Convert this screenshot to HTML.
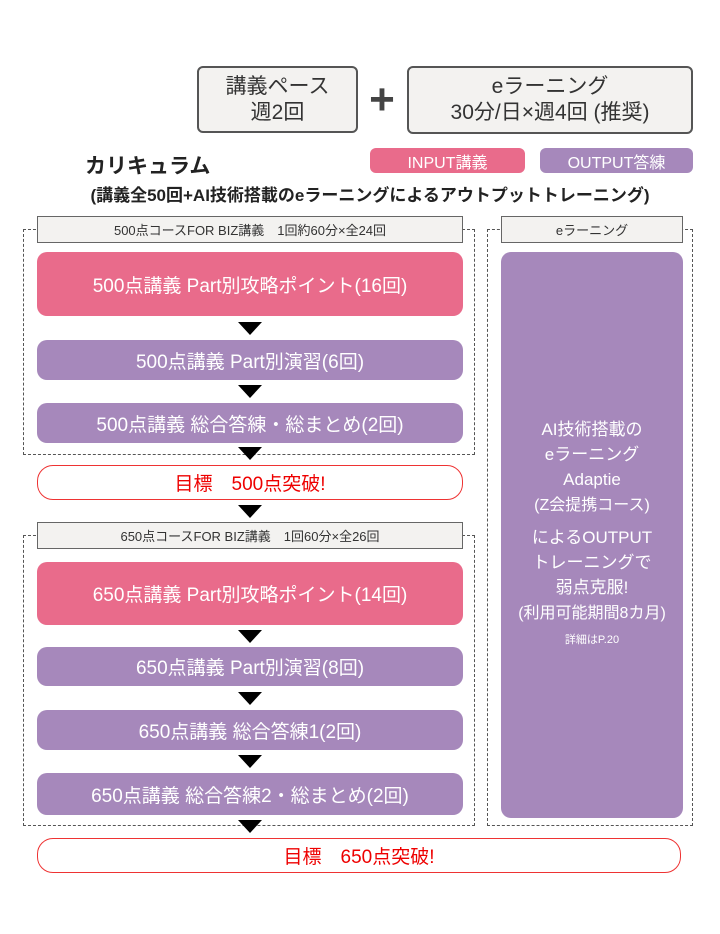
<!DOCTYPE html>
<html><head><meta charset="utf-8"><style>
body{margin:0;width:720px;height:934px;background:#fff;position:relative;font-family:"Liberation Sans","Noto Sans CJK JP",sans-serif;overflow:hidden}
.a{position:absolute;box-sizing:border-box;display:flex;align-items:center;justify-content:center;text-align:center}
.top{background:#f3f2f0;border:2px solid #555;border-radius:6px;color:#333;font-size:21px;line-height:26px;flex-direction:column}
.hd{background:#f3f2f0;border:1px solid #666;color:#333;font-size:13px}
.pk{background:#e96b8b;color:#fff;border-radius:10px;font-size:19px}
.pu{background:#a688bb;color:#fff;border-radius:10px;font-size:19px}
.ds{position:absolute;border:1px dashed #555;box-sizing:border-box}
.tg{background:#fff;border:1.5px solid #e33;color:#e00;border-radius:16px;font-size:19px}
.ar{position:absolute;width:0;height:0;border-left:12px solid transparent;border-right:12px solid transparent;border-top:13px solid #000}
</style></head><body>
<div class="a top" style="left:197px;top:66px;width:161px;height:67px">講義ペース<br>週2回</div>
<div class="a" style="left:362px;top:80px;width:40px;height:40px;font-size:44px;font-weight:bold;color:#444">+</div>
<div class="a top" style="left:407px;top:66px;width:286px;height:68px">eラーニング<br>30分/日×週4回 (推奨)</div>
<div class="a pk" style="left:370px;top:148px;width:155px;height:25px;border-radius:6px;font-size:16px">INPUT講義</div>
<div class="a pu" style="left:540px;top:148px;width:153px;height:25px;border-radius:6px;font-size:16px">OUTPUT答練</div>
<div class="a" style="left:85px;top:150px;width:160px;height:30px;font-size:21px;font-weight:bold;color:#222;justify-content:flex-start">カリキュラム</div>
<div class="a" style="left:40px;top:180px;width:660px;height:26px;font-size:17px;font-weight:bold;color:#222">(講義全50回+AI技術搭載のeラーニングによるアウトプットトレーニング)</div>

<div class="ds" style="left:23px;top:229px;width:452px;height:226px"></div>
<div class="ds" style="left:487px;top:229px;width:206px;height:597px"></div>
<div class="ds" style="left:23px;top:535px;width:452px;height:291px"></div>
<div class="a hd" style="left:37px;top:216px;width:426px;height:27px">500点コースFOR BIZ講義　1回約60分×全24回</div>
<div class="a hd" style="left:501px;top:216px;width:182px;height:27px">eラーニング</div>
<div class="a pu" style="left:501px;top:252px;width:182px;height:566px;flex-direction:column;font-size:17px;line-height:25px;padding-top:0">
<div>AI技術搭載の<br>eラーニング<br>Adaptie<br><span style="font-size:16px">(Z会提携コース)</span></div>
<div style="margin-top:7px">によるOUTPUT<br>トレーニングで<br>弱点克服!<br><span style="font-size:16px">(利用可能期間8カ月)</span></div>
<div style="font-size:11px;margin-top:2px">詳細はP.20</div></div>

<div class="a pk" style="left:37px;top:252px;width:426px;height:64px">500点講義 Part別攻略ポイント(16回)</div>
<div class="ar" style="left:238px;top:322px"></div>
<div class="a pu" style="left:37px;top:340px;width:426px;height:40px">500点講義 Part別演習(6回)</div>
<div class="ar" style="left:238px;top:385px"></div>
<div class="a pu" style="left:37px;top:403px;width:426px;height:40px">500点講義 総合答練・総まとめ(2回)</div>
<div class="ar" style="left:238px;top:447px"></div>
<div class="a tg" style="left:37px;top:465px;width:426px;height:35px">目標　500点突破!</div>
<div class="ar" style="left:238px;top:505px"></div>
<div class="a hd" style="left:37px;top:522px;width:426px;height:27px">650点コースFOR BIZ講義　1回60分×全26回</div>
<div class="a pk" style="left:37px;top:562px;width:426px;height:63px">650点講義 Part別攻略ポイント(14回)</div>
<div class="ar" style="left:238px;top:630px"></div>
<div class="a pu" style="left:37px;top:647px;width:426px;height:39px">650点講義 Part別演習(8回)</div>
<div class="ar" style="left:238px;top:692px"></div>
<div class="a pu" style="left:37px;top:710px;width:426px;height:40px">650点講義 総合答練1(2回)</div>
<div class="ar" style="left:238px;top:755px"></div>
<div class="a pu" style="left:37px;top:773px;width:426px;height:42px">650点講義 総合答練2・総まとめ(2回)</div>
<div class="ar" style="left:238px;top:820px"></div>
<div class="a tg" style="left:37px;top:838px;width:644px;height:35px">目標　650点突破!</div>
</body></html>
